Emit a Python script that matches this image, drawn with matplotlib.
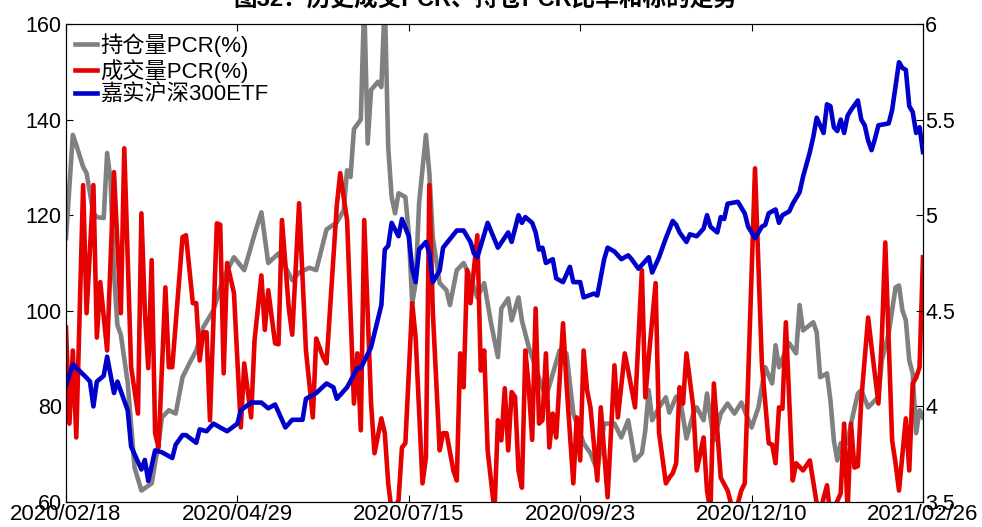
import matplotlib
matplotlib.use("Agg")
import matplotlib.pyplot as plt

plt.rcParams['font.family'] = ['Liberation Sans', 'Noto Sans CJK SC', 'DejaVu Sans']

# x轴为交易日序号，刻度标签为日期
tick_days = [0, 50, 100, 150, 200, 250]
tick_labels = ['2020/02/18', '2020/04/29', '2020/07/15', '2020/09/23', '2020/12/10', '2021/02/26']

# 持仓量PCR(%)
gray_day = [0, 2, 3, 5, 6, 8, 9, 11, 12, 13, 14, 15, 16, 18, 20, 22, 25, 27, 28, 30,
            32, 34, 36, 38, 40, 43, 46, 49, 52, 55, 57, 59, 62, 66, 68, 71, 73, 76, 79, 81,
            82, 83, 84, 86, 87, 88, 89, 91, 92, 93, 94, 95, 96, 97, 99, 100, 101, 102, 103, 105,
            106, 107, 108, 109, 111, 112, 114, 116, 118, 120, 122, 124, 126, 127, 129, 130, 132, 133, 135, 138,
            140, 144, 146, 148, 151, 153, 155, 157, 160, 162, 164, 166, 168, 169, 170, 171, 173, 175, 176, 178,
            179, 181, 183, 184, 186, 187, 189, 191, 193, 195, 197, 200, 202, 204, 206, 207, 208, 210, 211, 213,
            214, 215, 218, 219, 220, 222, 223, 224, 225, 226, 228, 229, 231, 232, 234, 237, 238, 240, 242, 243,
            244, 245, 246, 247, 248, 249, 250]
gray_val = [115.2, 136.8, 134.7, 130.1, 128.8, 120.4, 119.6, 119.4, 133, 127.3, 108, 97, 95, 85, 67.2, 62.4, 63.9, 72.3, 77.7, 79.2,
            78.5, 86.1, 89, 91.7, 96.5, 100.1, 107, 111.2, 108.5, 116, 120.6, 110, 112, 106.4, 108, 109, 108.5, 117, 118.5, 121,
            129.4, 128, 138, 140, 165, 135, 146.2, 147.9, 146.8, 165, 134.2, 123.8, 120.4, 124.6, 123.8, 116.2, 101.6, 105.8, 122.5, 136.8,
            128.8, 115.4, 110.6, 105.8, 104.3, 101.2, 108.5, 110, 107, 102.8, 105.8, 97.4, 90.3, 100.5, 102.6, 98, 102.8, 98, 92.4, 86,
            81.9, 91.7, 91.1, 78.5, 72.3, 70.2, 66.6, 76.4, 76.4, 73.5, 77.1, 68.7, 70.2, 75, 83.4, 77.1, 79.8, 81.9, 78.7, 82,
            82.3, 73.3, 78.5, 79.8, 77.1, 82.7, 72.9, 78.5, 80.6, 78.5, 80.8, 75.6, 79.8, 88.2, 84.8, 92.8, 88.2, 91.7, 93.2, 91.1,
            101.2, 95.9, 97.6, 95.5, 86.1, 86.9, 81.3, 72.9, 68.7, 72.3, 72.3, 76.4, 82.7, 83.4, 79.8, 82, 89.6, 95.3, 104.9, 105.3,
            100.1, 98, 89.6, 86.9, 74.4, 79.2, 77.7]

# 成交量PCR(%)
red_day = [0, 1, 2, 3, 5, 6, 8, 9, 10, 12, 14, 16, 17, 19, 21, 22, 23, 24, 25, 26,
           27, 29, 30, 31, 34, 35, 37, 38, 39, 40, 41, 42, 44, 45, 46, 47, 49, 51, 52, 54,
           55, 57, 58, 59, 61, 62, 63, 65, 66, 68, 70, 72, 73, 75, 76, 79, 80, 81, 82, 84,
           85, 86, 87, 89, 90, 92, 93, 94, 95, 97, 98, 99, 101, 102, 104, 105, 106, 107, 109, 110,
           111, 113, 114, 115, 116, 117, 118, 120, 121, 122, 123, 125, 126, 127, 128, 129, 130, 131, 132, 133,
           134, 135, 136, 137, 138, 139, 140, 141, 142, 143, 145, 146, 148, 149, 150, 151, 152, 153, 155, 156,
           158, 160, 161, 163, 164, 166, 168, 169, 170, 172, 173, 175, 176, 177, 178, 179, 180, 181, 183, 184,
           186, 187, 188, 189, 191, 193, 195, 197, 198, 201, 203, 205, 206, 207, 208, 209, 210, 212, 213, 215,
           217, 219, 220, 222, 223, 226, 227, 228, 229, 230, 231, 232, 234, 235, 237, 238, 239, 241, 242, 243,
           245, 246, 247, 248, 249, 250]
red_val = [96.5, 76.4, 91.7, 73.5, 126.3, 99.5, 126.3, 94.4, 106, 91.7, 129, 99.5, 134, 88.2, 78.5, 120.4, 100, 88, 110.6, 74.4,
           71.4, 104.9, 88.2, 88.2, 115.4, 115.8, 101.6, 101.6, 89.6, 95.5, 95.5, 77.1, 118.3, 118, 86.9, 110, 103.7, 75.6, 89, 77.7,
           93.8, 107.4, 96, 104.3, 93.2, 93, 119, 100.5, 95, 122.5, 91.7, 77.7, 94.2, 90.3, 89, 122, 128.8, 123.8, 119, 80.6,
           91.1, 75, 119, 80.6, 70.2, 77.5, 74.4, 63.9, 58, 60.3, 71.4, 72.3, 101.6, 94.4, 63.9, 69.3, 126.3, 100, 70.8, 74.4,
           74.4, 66.6, 64.5, 91.1, 84, 108.5, 101.6, 115.8, 87.5, 91.7, 70.8, 58, 77.1, 72.9, 83.8, 70.8, 83, 82, 66.6, 63,
           91.7, 84, 73, 100.5, 76.4, 77.1, 91.1, 71.4, 78.5, 73.5, 97.4, 84.8, 63.9, 77.7, 68.7, 91.7, 83.4, 79.8, 64.5, 79.8,
           61, 88.6, 77.7, 91.1, 87.5, 79.8, 108.5, 81.9, 90.3, 105.8, 74.5, 63.9, 65.1, 66, 68.1, 84, 80.6, 91.1, 79.8, 66.6,
           73.5, 62.4, 58, 84.8, 65.1, 62.4, 57, 62.4, 63.9, 129.8, 89, 72.3, 72, 68.1, 79.8, 79.5, 97.6, 64.5, 68.1, 66.6,
           68.7, 59.7, 58, 63.5, 57, 61.8, 76.4, 58, 76.4, 67.2, 67.5, 81.3, 98.6, 92.4, 80.6, 94.4, 114.3, 72.9, 68.1, 62.4,
           77.5, 66.6, 84.8, 86, 88.2, 111.2]

# 嘉实沪深300ETF（右轴）
blue_day = [0, 2, 6, 7, 8, 9, 11, 12, 14, 15, 18, 19, 22, 23, 24, 26, 28, 31, 32, 34,
            35, 38, 39, 41, 43, 45, 47, 50, 51, 54, 57, 59, 61, 64, 66, 69, 70, 73, 76, 78,
            79, 82, 85, 86, 89, 92, 93, 94, 95, 97, 98, 100, 101, 102, 103, 105, 106, 107, 109, 110,
            114, 116, 118, 119, 120, 123, 126, 129, 130, 132, 133, 134, 136, 137, 138, 139, 140, 142, 143, 145,
            147, 148, 150, 151, 154, 155, 157, 158, 160, 162, 164, 165, 167, 170, 171, 173, 175, 177, 178, 179,
            181, 182, 184, 186, 187, 188, 190, 191, 192, 193, 196, 198, 199, 201, 203, 204, 205, 207, 208, 209,
            211, 212, 214, 215, 217, 218, 219, 221, 222, 223, 224, 225, 226, 227, 228, 229, 231, 232, 233, 234,
            235, 236, 237, 240, 241, 243, 244, 245, 246, 247, 248, 249, 250]
blue_val = [4.11, 4.22, 4.15, 4.13, 4.00, 4.13, 4.16, 4.26, 4.07, 4.13, 3.98, 3.79, 3.67, 3.72, 3.61, 3.77, 3.76, 3.73, 3.80, 3.85,
            3.85, 3.81, 3.88, 3.87, 3.91, 3.89, 3.87, 3.91, 3.98, 4.02, 4.02, 3.99, 4.01, 3.89, 3.93, 3.93, 4.04, 4.07, 4.12, 4.10,
            4.04, 4.10, 4.20, 4.20, 4.31, 4.53, 4.82, 4.84, 4.96, 4.89, 4.98, 4.89, 4.72, 4.65, 4.82, 4.86, 4.80, 4.65, 4.71, 4.83,
            4.92, 4.92, 4.86, 4.80, 4.78, 4.96, 4.83, 4.91, 4.86, 5.00, 4.96, 4.99, 4.96, 4.91, 4.82, 4.83, 4.75, 4.77, 4.67, 4.65,
            4.73, 4.65, 4.65, 4.57, 4.59, 4.58, 4.77, 4.83, 4.81, 4.77, 4.79, 4.77, 4.72, 4.78, 4.70, 4.78, 4.88, 4.97, 4.95, 4.91,
            4.86, 4.90, 4.89, 4.93, 5.00, 4.94, 4.91, 4.99, 4.98, 5.06, 5.07, 5.01, 4.94, 4.88, 4.94, 4.95, 5.01, 5.03, 4.96, 5.00,
            5.02, 5.06, 5.12, 5.20, 5.33, 5.41, 5.51, 5.43, 5.58, 5.57, 5.46, 5.44, 5.50, 5.43, 5.52, 5.55, 5.60, 5.50, 5.47, 5.39,
            5.34, 5.40, 5.47, 5.48, 5.55, 5.80, 5.77, 5.76, 5.57, 5.54, 5.43, 5.46, 5.33]

fig = plt.figure(figsize=(9.82, 5.27), dpi=100)
ax = fig.add_axes([0.0672, 0.0474, 0.8727, 0.9071])
ax2 = ax.twinx()

l1, = ax.plot(gray_day, gray_val, color='#808080', lw=3.3, label='持仓量PCR(%)')
l2, = ax.plot(red_day, red_val, color='#e60000', lw=3.3, label='成交量PCR(%)')
l3, = ax2.plot(blue_day, blue_val, color='#0000cc', lw=3.3, label='嘉实沪深300ETF')

ax.set_xlim(0, 250)
ax.set_ylim(60, 160)
ax2.set_ylim(3.5, 6)
ax.set_xticks(tick_days)
ax.set_xticklabels(tick_labels)
ax.set_yticks([60, 80, 100, 120, 140, 160])
ax2.set_yticks([3.5, 4, 4.5, 5, 5.5, 6])
ax2.set_yticklabels(['3.5', '4', '4.5', '5', '5.5', '6'])

ax.tick_params(axis='x', direction='in', top=True, length=5, pad=1.5, labelsize=16)
ax.tick_params(axis='y', direction='in', length=5, pad=3, labelsize=15.5)
ax2.tick_params(axis='y', direction='in', length=5, pad=1.5, labelsize=15.5)

ax2.legend(handles=[l1, l2, l3], loc='upper left', frameon=False, fontsize=16,
           handlelength=1.0, handletextpad=0.15, labelspacing=0.1,
           borderaxespad=0.2, borderpad=0.2)

fig.text(0.494, 1.0, '图32：历史成交PCR、持仓PCR比率和标的走势', ha='center', va='center',
         fontsize=17, fontweight='bold')

fig.savefig('out.png', dpi=100)
